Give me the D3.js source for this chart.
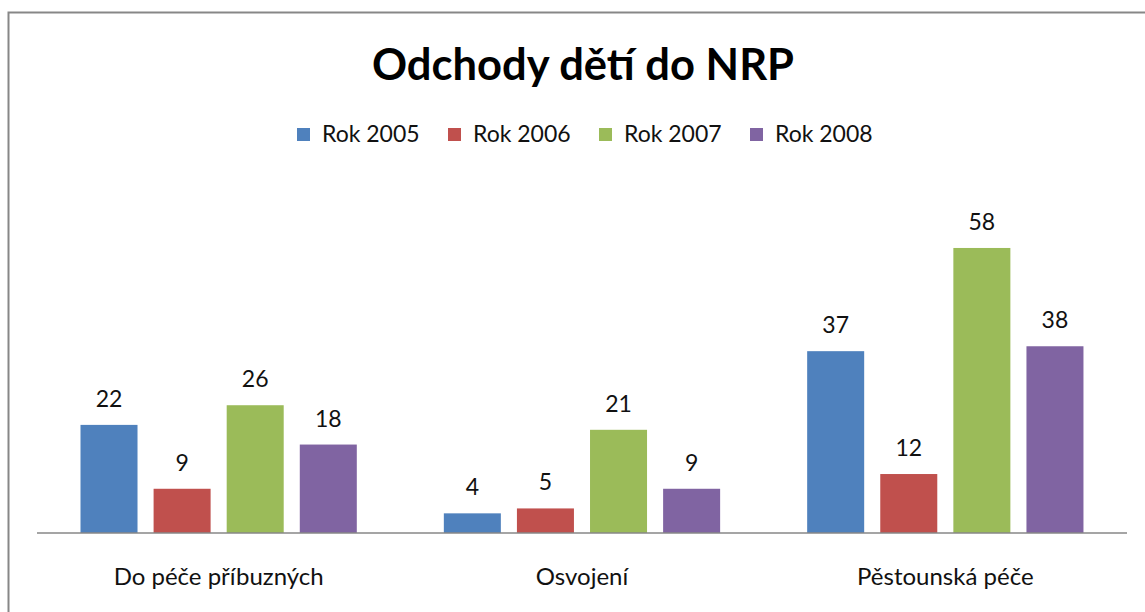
<!DOCTYPE html>
<html>
<head>
<meta charset="utf-8">
<script src="https://cdn.jsdelivr.net/npm/d3@7"></script>
<style>
body{margin:0;background:#fff;}
svg{font-family:Lato,"Open Sans",sans-serif;}
</style>
</head>
<body>
<svg id="chart"></svg>
<script>
const width=1145;
const height=612;

const categories=['Do péče příbuzných','Osvojení','Pěstounská péče'];
const seriesNames=['Rok 2005','Rok 2006','Rok 2007','Rok 2008'];
const seriesColors=['#4f81bd','#c0504d','#9bbb59','#8064a2'];
const values2005=[22,4,37];
const values2006=[9,5,12];
const values2007=[26,21,58];
const values2008=[18,9,38];
const allValues=[values2005,values2006,values2007,values2008];

const svg=d3.select('#chart').attr('width',width).attr('height',height);

// chart frame
svg.append('rect')
  .attr('x',8.5).attr('y',12.5)
  .attr('width',1160).attr('height',620)
  .attr('fill','#fff')
  .attr('stroke','#878787')
  .attr('stroke-width',2);

svg.append('text')
  .attr('x',583).attr('y',80)
  .attr('text-anchor','middle')
  .attr('font-size',43.5)
  .attr('font-weight','bold')
  .text('Odchody dětí do NRP');

// legend
const legend=svg.append('g').attr('transform','translate(297,128)');
const legendItem=legend.selectAll('g')
  .data(seriesNames)
  .enter().append('g')
  .attr('transform',(d,i)=>'translate('+(i*151)+',0)');
legendItem.append('rect')
  .attr('width',13).attr('height',13)
  .attr('fill',(d,i)=>seriesColors[i]);
legendItem.append('text')
  .attr('x',25).attr('y',14)
  .attr('font-size',23)
  .attr('fill','#111')
  .text(d=>d);

const x0=d3.scaleBand().domain(categories).range([37,1127]).paddingInner(0).paddingOuter(0);
const x1=d3.scaleBand().domain(seriesNames).range([43.5,363.3-43.5]).paddingInner(0.22);
const y=d3.scaleLinear().domain([0,70]).range([533,189]);

const group=svg.selectAll('g.cat')
  .data(categories)
  .enter().append('g')
  .attr('class','cat')
  .attr('transform',d=>'translate('+x0(d)+',0)');

group.each(function(cat,ci){
  const g=d3.select(this);
  const rows=seriesNames.map((s,si)=>({s:s,si:si,v:allValues[si][ci]}));
  g.selectAll('rect')
    .data(rows)
    .enter().append('rect')
    .attr('x',d=>x1(d.s))
    .attr('y',d=>y(d.v))
    .attr('width',x1.bandwidth())
    .attr('height',d=>y(0)-y(d.v))
    .attr('fill',d=>seriesColors[d.si]);
  g.selectAll('text.val')
    .data(rows)
    .enter().append('text')
    .attr('class','val')
    .attr('x',d=>x1(d.s)+x1.bandwidth()/2)
    .attr('y',d=>y(d.v)-18)
    .attr('text-anchor','middle')
    .attr('font-size',23)
    .attr('fill','#111')
    .text(d=>d.v);
});

// baseline
svg.append('line')
  .attr('x1',37).attr('x2',1127)
  .attr('y1',533).attr('y2',533)
  .attr('stroke','#878787').attr('stroke-width',1.5);

svg.selectAll('text.cat')
  .data(categories)
  .enter().append('text')
  .attr('class','cat')
  .attr('x',d=>x0(d)+x0.bandwidth()/2)
  .attr('y',585)
  .attr('text-anchor','middle')
  .attr('font-size',24)
  .attr('fill','#111')
  .text(d=>d);
</script>
</body>
</html>
